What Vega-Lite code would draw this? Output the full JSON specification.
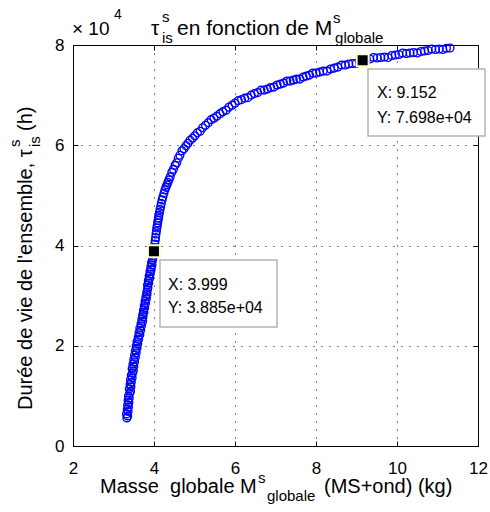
{
  "$schema": "https://vega.github.io/schema/vega-lite/v6.json",
  "width": 405,
  "height": 401,
  "autosize": {"type": "none"},
  "padding": {"left": 73, "top": 45, "right": 12, "bottom": 66},
  "background": "white",
  "config": {
    "view": {"stroke": "#000", "strokeWidth": 1},
    "text": {"font": "Liberation Sans", "color": "#000"}
  },
  "datasets": {
    "curve": [
      {"masse": 3.33, "duree": 5600}, {"masse": 3.35, "duree": 6000}, {"masse": 3.32, "duree": 6400}, {"masse": 3.36, "duree": 6900},
      {"masse": 3.34, "duree": 7300}, {"masse": 3.37, "duree": 7800}, {"masse": 3.35, "duree": 8200}, {"masse": 3.38, "duree": 8700},
      {"masse": 3.36, "duree": 9100}, {"masse": 3.39, "duree": 9600}, {"masse": 3.37, "duree": 10000}, {"masse": 3.40, "duree": 10500},
      {"masse": 3.42, "duree": 10900}, {"masse": 3.39, "duree": 11400}, {"masse": 3.43, "duree": 11800}, {"masse": 3.41, "duree": 12300},
      {"masse": 3.44, "duree": 12700}, {"masse": 3.42, "duree": 13200}, {"masse": 3.46, "duree": 13600}, {"masse": 3.44, "duree": 14100},
      {"masse": 3.47, "duree": 14500}, {"masse": 3.49, "duree": 15000}, {"masse": 3.46, "duree": 15400}, {"masse": 3.50, "duree": 15900},
      {"masse": 3.48, "duree": 16300}, {"masse": 3.52, "duree": 16800}, {"masse": 3.50, "duree": 17200}, {"masse": 3.54, "duree": 17700},
      {"masse": 3.52, "duree": 18100}, {"masse": 3.56, "duree": 18600}, {"masse": 3.54, "duree": 19000}, {"masse": 3.58, "duree": 19500},
      {"masse": 3.56, "duree": 19900}, {"masse": 3.60, "duree": 20400}, {"masse": 3.58, "duree": 20800}, {"masse": 3.62, "duree": 21300},
      {"masse": 3.61, "duree": 21700}, {"masse": 3.65, "duree": 22200}, {"masse": 3.63, "duree": 22600}, {"masse": 3.67, "duree": 23100},
      {"masse": 3.65, "duree": 23500}, {"masse": 3.69, "duree": 24000}, {"masse": 3.68, "duree": 24400}, {"masse": 3.72, "duree": 24900},
      {"masse": 3.70, "duree": 25300}, {"masse": 3.73, "duree": 25800}, {"masse": 3.72, "duree": 26200}, {"masse": 3.75, "duree": 26700},
      {"masse": 3.74, "duree": 27100}, {"masse": 3.77, "duree": 27600}, {"masse": 3.76, "duree": 28000}, {"masse": 3.79, "duree": 28500},
      {"masse": 3.78, "duree": 28900}, {"masse": 3.81, "duree": 29400}, {"masse": 3.80, "duree": 29800}, {"masse": 3.83, "duree": 30300},
      {"masse": 3.82, "duree": 30700}, {"masse": 3.84, "duree": 31200}, {"masse": 3.85, "duree": 31600}, {"masse": 3.84, "duree": 32100},
      {"masse": 3.87, "duree": 32500}, {"masse": 3.86, "duree": 33000}, {"masse": 3.89, "duree": 33400}, {"masse": 3.88, "duree": 33900},
      {"masse": 3.91, "duree": 34300}, {"masse": 3.90, "duree": 34800}, {"masse": 3.93, "duree": 35200}, {"masse": 3.92, "duree": 35700},
      {"masse": 3.95, "duree": 36100}, {"masse": 3.94, "duree": 36600}, {"masse": 3.96, "duree": 37000}, {"masse": 3.97, "duree": 37500},
      {"masse": 3.96, "duree": 37900}, {"masse": 3.99, "duree": 38400}, {"masse": 3.999, "duree": 38850},
      {"masse": 4.01, "duree": 39600}, {"masse": 4.02, "duree": 40300}, {"masse": 4.03, "duree": 41000}, {"masse": 4.04, "duree": 41600},
      {"masse": 4.05, "duree": 42300}, {"masse": 4.06, "duree": 42900}, {"masse": 4.07, "duree": 43500}, {"masse": 4.08, "duree": 44000},
      {"masse": 4.09, "duree": 44500}, {"masse": 4.10, "duree": 45000}, {"masse": 4.11, "duree": 45500}, {"masse": 4.12, "duree": 46000},
      {"masse": 4.135, "duree": 46600}, {"masse": 4.15, "duree": 47200}, {"masse": 4.165, "duree": 47800}, {"masse": 4.18, "duree": 48400},
      {"masse": 4.20, "duree": 49100}, {"masse": 4.22, "duree": 49700}, {"masse": 4.245, "duree": 50400}, {"masse": 4.27, "duree": 51100},
      {"masse": 4.295, "duree": 51600}, {"masse": 4.32, "duree": 52100}, {"masse": 4.345, "duree": 52600}, {"masse": 4.37, "duree": 53100},
      {"masse": 4.40, "duree": 53700}, {"masse": 4.44, "duree": 54600}, {"masse": 4.48, "duree": 55200}, {"masse": 4.52, "duree": 56000},
      {"masse": 4.56, "duree": 56500}, {"masse": 4.60, "duree": 57400}, {"masse": 4.64, "duree": 58000}, {"masse": 4.69, "duree": 58900},
      {"masse": 4.74, "duree": 59300}, {"masse": 4.79, "duree": 59900}, {"masse": 4.84, "duree": 60400}, {"masse": 4.89, "duree": 61000},
      {"masse": 4.95, "duree": 61400}, {"masse": 5.01, "duree": 61900}, {"masse": 5.07, "duree": 62500}, {"masse": 5.14, "duree": 62800},
      {"masse": 5.20, "duree": 63500}, {"masse": 5.27, "duree": 64000}, {"masse": 5.34, "duree": 64500}, {"masse": 5.41, "duree": 65100},
      {"masse": 5.48, "duree": 65400}, {"masse": 5.55, "duree": 65800}, {"masse": 5.63, "duree": 66300}, {"masse": 5.70, "duree": 66700},
      {"masse": 5.78, "duree": 67000}, {"masse": 5.85, "duree": 67600}, {"masse": 5.93, "duree": 68000}, {"masse": 6.00, "duree": 68400},
      {"masse": 6.08, "duree": 68900}, {"masse": 6.16, "duree": 69100}, {"masse": 6.24, "duree": 69400}, {"masse": 6.32, "duree": 69500},
      {"masse": 6.40, "duree": 70000}, {"masse": 6.48, "duree": 70300}, {"masse": 6.56, "duree": 70500}, {"masse": 6.64, "duree": 71000},
      {"masse": 6.72, "duree": 71000}, {"masse": 6.80, "duree": 71200}, {"masse": 6.88, "duree": 71500}, {"masse": 6.96, "duree": 71600},
      {"masse": 7.04, "duree": 72000}, {"masse": 7.12, "duree": 72200}, {"masse": 7.20, "duree": 72400}, {"masse": 7.28, "duree": 72800},
      {"masse": 7.36, "duree": 72800}, {"masse": 7.44, "duree": 73000}, {"masse": 7.52, "duree": 73200}, {"masse": 7.60, "duree": 73200},
      {"masse": 7.68, "duree": 73600}, {"masse": 7.76, "duree": 73800}, {"masse": 7.84, "duree": 74000}, {"masse": 7.92, "duree": 74400},
      {"masse": 8.00, "duree": 74400}, {"masse": 8.09, "duree": 74600}, {"masse": 8.18, "duree": 74800}, {"masse": 8.27, "duree": 74800},
      {"masse": 8.36, "duree": 75200}, {"masse": 8.45, "duree": 75400}, {"masse": 8.54, "duree": 75600}, {"masse": 8.63, "duree": 76000},
      {"masse": 8.72, "duree": 76000}, {"masse": 8.81, "duree": 76200}, {"masse": 8.90, "duree": 76300}, {"masse": 8.99, "duree": 76300},
      {"masse": 9.07, "duree": 76800}, {"masse": 9.24, "duree": 77100}, {"masse": 9.33, "duree": 77200}, {"masse": 9.42, "duree": 77500},
      {"masse": 9.51, "duree": 77400}, {"masse": 9.60, "duree": 77500}, {"masse": 9.69, "duree": 77600}, {"masse": 9.78, "duree": 77500},
      {"masse": 9.87, "duree": 77900}, {"masse": 9.96, "duree": 78000}, {"masse": 10.05, "duree": 78100}, {"masse": 10.14, "duree": 78400},
      {"masse": 10.23, "duree": 78300}, {"masse": 10.32, "duree": 78400}, {"masse": 10.41, "duree": 78500}, {"masse": 10.50, "duree": 78400},
      {"masse": 10.59, "duree": 78700}, {"masse": 10.68, "duree": 78800}, {"masse": 10.77, "duree": 78900}, {"masse": 10.86, "duree": 79200},
      {"masse": 10.95, "duree": 79100}, {"masse": 11.04, "duree": 79200}, {"masse": 11.13, "duree": 79100}, {"masse": 11.22, "duree": 79350},
      {"masse": 11.31, "duree": 79400}
    ],
    "tips": [
      {"masse": 3.999, "duree": 38850},
      {"masse": 9.152, "duree": 76980}
    ]
  },
  "layer": [
    {
      "data": {"name": "curve"},
      "mark": {"type": "point", "shape": "circle", "filled": false, "stroke": "#0000ff", "strokeWidth": 1.4, "size": 60, "opacity": 1},
      "encoding": {
        "x": {
          "field": "masse", "type": "quantitative",
          "scale": {"domain": [2, 12], "nice": false, "zero": false},
          "axis": {
            "orient": "bottom", "values": [2, 4, 6, 8, 10, 12], "title": null,
            "grid": true, "gridColor": "#000", "gridDash": [1, 7], "gridWidth": 1, "gridOpacity": 1,
            "domain": false, "ticks": true, "tickSize": -5, "tickColor": "#000", "tickWidth": 1,
            "labelFont": "Liberation Sans", "labelFontSize": 17, "labelColor": "#000",
            "labelPadding": 19, "labelFlush": false, "labelBaseline": "top"
          }
        },
        "y": {
          "field": "duree", "type": "quantitative",
          "scale": {"domain": [0, 80000], "nice": false, "zero": true},
          "axis": {
            "orient": "left", "values": [0, 20000, 40000, 60000, 80000], "title": null,
            "labelExpr": "format(datum.value / 10000, 'd')",
            "grid": true, "gridColor": "#000", "gridDash": [1, 7], "gridWidth": 1, "gridOpacity": 1,
            "domain": false, "ticks": true, "tickSize": -5, "tickColor": "#000", "tickWidth": 1,
            "labelFont": "Liberation Sans", "labelFontSize": 17, "labelColor": "#000",
            "labelPadding": 14, "labelFlush": false
          }
        }
      }
    },
    {
      "data": {"values": [{}]},
      "mark": {"type": "rect", "fill": "#ffffff", "stroke": "#b4b4b4", "strokeWidth": 1.5},
      "encoding": {
        "x": {"datum": 4.148, "type": "quantitative", "axis": null},
        "x2": {"datum": 7.037},
        "y": {"datum": 37108, "type": "quantitative", "axis": null},
        "y2": {"datum": 23741}
      }
    },
    {
      "data": {"values": [{}]},
      "mark": {"type": "rect", "fill": "#ffffff", "stroke": "#b4b4b4", "strokeWidth": 1.5},
      "encoding": {
        "x": {"datum": 9.284, "type": "quantitative", "axis": null},
        "x2": {"datum": 12.173},
        "y": {"datum": 75212, "type": "quantitative", "axis": null},
        "y2": {"datum": 61845}
      }
    },
    {
      "data": {"name": "tips"},
      "mark": {"type": "point", "shape": "square", "filled": true, "fill": "#000000", "stroke": "#ffffc0", "strokeWidth": 2, "size": 144, "opacity": 1},
      "encoding": {
        "x": {
          "field": "masse", "type": "quantitative",
          "axis": {"orient": "top", "values": [2, 4, 6, 8, 10, 12], "title": null, "labels": false, "grid": false, "domain": false, "tickSize": -5, "tickColor": "#000"}
        },
        "y": {
          "field": "duree", "type": "quantitative",
          "axis": {"orient": "right", "values": [0, 20000, 40000, 60000, 80000], "title": null, "labels": false, "grid": false, "domain": false, "tickSize": -5, "tickColor": "#000"}
        }
      }
    },
    {
      "data": {"values": [{}]},
      "layer": [
        {"mark": {"type": "text", "text": "X: 3.999", "fontSize": 16, "align": "left", "baseline": "alphabetic"},
         "encoding": {"x": {"datum": 4.346, "type": "quantitative", "axis": null}, "y": {"datum": 31122, "type": "quantitative", "axis": null}}},
        {"mark": {"type": "text", "text": "Y: 3.885e+04", "fontSize": 16, "align": "left", "baseline": "alphabetic"},
         "encoding": {"x": {"datum": 4.346, "type": "quantitative", "axis": null}, "y": {"datum": 26534, "type": "quantitative", "axis": null}}},
        {"mark": {"type": "text", "text": "X: 9.152", "fontSize": 16, "align": "left", "baseline": "alphabetic"},
         "encoding": {"x": {"datum": 9.506, "type": "quantitative", "axis": null}, "y": {"datum": 69426, "type": "quantitative", "axis": null}}},
        {"mark": {"type": "text", "text": "Y: 7.698e+04", "fontSize": 16, "align": "left", "baseline": "alphabetic"},
         "encoding": {"x": {"datum": 9.506, "type": "quantitative", "axis": null}, "y": {"datum": 64439, "type": "quantitative", "axis": null}}},

        {"mark": {"type": "text", "text": "× 10", "fontSize": 19, "align": "left", "baseline": "alphabetic"},
         "encoding": {"x": {"datum": 1.975, "type": "quantitative", "axis": null}, "y": {"datum": 81995, "type": "quantitative", "axis": null}}},
        {"mark": {"type": "text", "text": "4", "fontSize": 14, "align": "left", "baseline": "alphabetic"},
         "encoding": {"x": {"datum": 3.012, "type": "quantitative", "axis": null}, "y": {"datum": 85187, "type": "quantitative", "axis": null}}},

        {"mark": {"type": "text", "text": "τ", "fontSize": 21, "align": "left", "baseline": "alphabetic"},
         "encoding": {"x": {"datum": 3.926, "type": "quantitative", "axis": null}, "y": {"datum": 81995, "type": "quantitative", "axis": null}}},
        {"mark": {"type": "text", "text": "s", "fontSize": 15, "align": "left", "baseline": "alphabetic"},
         "encoding": {"x": {"datum": 4.198, "type": "quantitative", "axis": null}, "y": {"datum": 84589, "type": "quantitative", "axis": null}}},
        {"mark": {"type": "text", "text": "is", "fontSize": 15, "align": "left", "baseline": "alphabetic"},
         "encoding": {"x": {"datum": 4.198, "type": "quantitative", "axis": null}, "y": {"datum": 80400, "type": "quantitative", "axis": null}}},
        {"mark": {"type": "text", "text": "en fonction de M", "fontSize": 21, "align": "left", "baseline": "alphabetic"},
         "encoding": {"x": {"datum": 4.568, "type": "quantitative", "axis": null}, "y": {"datum": 81995, "type": "quantitative", "axis": null}}},
        {"mark": {"type": "text", "text": "s", "fontSize": 15, "align": "left", "baseline": "alphabetic"},
         "encoding": {"x": {"datum": 8.42, "type": "quantitative", "axis": null}, "y": {"datum": 84389, "type": "quantitative", "axis": null}}},
        {"mark": {"type": "text", "text": "globale", "fontSize": 15, "align": "left", "baseline": "alphabetic"},
         "encoding": {"x": {"datum": 8.47, "type": "quantitative", "axis": null}, "y": {"datum": 80400, "type": "quantitative", "axis": null}}},

        {"mark": {"type": "text", "text": "Masse\u00a0\u00a0globale M", "fontSize": 20, "align": "left", "baseline": "alphabetic"},
         "encoding": {"x": {"datum": 2.6667, "type": "quantitative", "axis": null}, "y": {"datum": -9377, "type": "quantitative", "axis": null}}},
        {"mark": {"type": "text", "text": "s", "fontSize": 15, "align": "left", "baseline": "alphabetic"},
         "encoding": {"x": {"datum": 6.568, "type": "quantitative", "axis": null}, "y": {"datum": -7382, "type": "quantitative", "axis": null}}},
        {"mark": {"type": "text", "text": "globale", "fontSize": 15, "align": "left", "baseline": "alphabetic"},
         "encoding": {"x": {"datum": 6.79, "type": "quantitative", "axis": null}, "y": {"datum": -10973, "type": "quantitative", "axis": null}}},
        {"mark": {"type": "text", "text": "(MS+ond) (kg)", "fontSize": 20, "align": "left", "baseline": "alphabetic"},
         "encoding": {"x": {"datum": 8.198, "type": "quantitative", "axis": null}, "y": {"datum": -9377, "type": "quantitative", "axis": null}}},

        {"mark": {"type": "text", "text": "Durée de vie de l'ensemble, τ", "fontSize": 20, "angle": 270, "align": "left", "baseline": "alphabetic"},
         "encoding": {"x": {"datum": 0.9877, "type": "quantitative", "axis": null}, "y": {"datum": 7182, "type": "quantitative", "axis": null}}},
        {"mark": {"type": "text", "text": "s", "fontSize": 15, "angle": 270, "align": "left", "baseline": "alphabetic"},
         "encoding": {"x": {"datum": 0.6914, "type": "quantitative", "axis": null}, "y": {"datum": 59651, "type": "quantitative", "axis": null}}},
        {"mark": {"type": "text", "text": "is", "fontSize": 15, "angle": 270, "align": "left", "baseline": "alphabetic"},
         "encoding": {"x": {"datum": 1.185, "type": "quantitative", "axis": null}, "y": {"datum": 59651, "type": "quantitative", "axis": null}}},
        {"mark": {"type": "text", "text": "(h)", "fontSize": 20, "angle": 270, "align": "left", "baseline": "alphabetic"},
         "encoding": {"x": {"datum": 0.9877, "type": "quantitative", "axis": null}, "y": {"datum": 62843, "type": "quantitative", "axis": null}}}
      ]
    }
  ],
  "resolve": {"axis": {"x": "independent", "y": "independent"}}
}
